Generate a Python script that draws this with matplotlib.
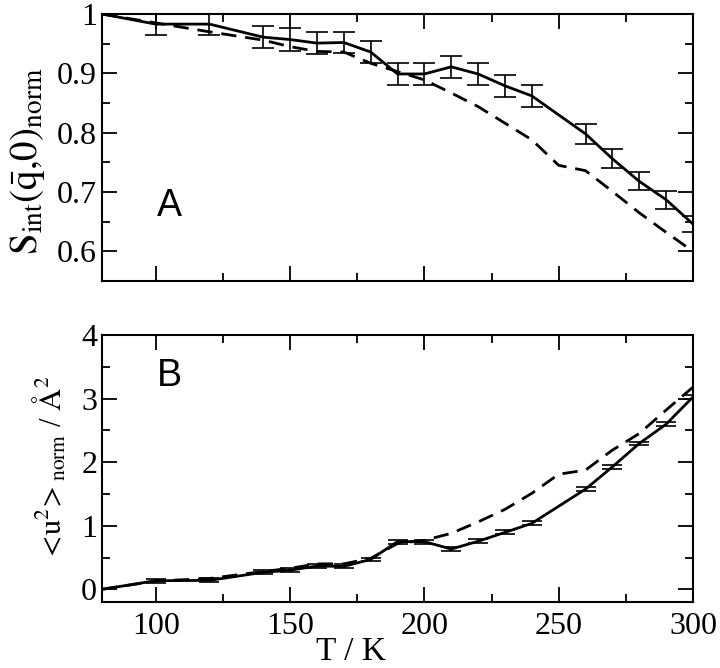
import numpy as np
import matplotlib
matplotlib.use('Agg')
import matplotlib.pyplot as plt
from matplotlib.ticker import MultipleLocator

########################## data ##########################

# panel A : S_int(q,0)_norm
T_a_solid = [80, 100, 120, 140, 150, 160, 170, 180, 190, 200, 210, 220, 230, 240, 260, 270, 280, 290, 300]
S_solid = [1.0, 0.983, 0.983, 0.961, 0.957, 0.951, 0.952, 0.936, 0.899, 0.899, 0.911, 0.899, 0.879, 0.862,
           0.798, 0.756, 0.718, 0.687, 0.646]
S_err = [0.0, 0.018, 0.018, 0.019, 0.02, 0.018, 0.018, 0.018, 0.018, 0.018, 0.018, 0.018, 0.018, 0.018,
         0.017, 0.016, 0.015, 0.015, 0.014]

T_dashed = [80, 100, 120, 140, 150, 160, 170, 180, 190, 200, 210, 220, 230, 240, 250, 260, 270, 280, 290, 300]
S_dashed = [1.0, 0.985, 0.970, 0.956, 0.945, 0.937, 0.936, 0.917, 0.903, 0.889, 0.867, 0.844, 0.816, 0.788,
            0.745, 0.736, 0.701, 0.665, 0.632, 0.600]

# panel B : <u^2>_norm
U_solid = [0.0, 0.135, 0.14, 0.267, 0.30, 0.366, 0.36, 0.47, 0.75, 0.75, 0.633, 0.755, 0.895, 1.037,
           1.576, 1.926, 2.294, 2.597, 3.026]
U_err = [0.0, 0.03, 0.03, 0.03, 0.03, 0.03, 0.03, 0.03, 0.03, 0.03, 0.03, 0.03, 0.03, 0.03,
         0.03, 0.03, 0.03, 0.03, 0.03]
U_dashed = [0.0, 0.13, 0.17, 0.28, 0.33, 0.40, 0.40, 0.487, 0.72, 0.77, 0.88, 1.06, 1.257, 1.51,
            1.81, 1.875, 2.19, 2.45, 2.82, 3.18]

x_ticks = [100, 150, 200, 250, 300]

########################## style ##########################

plt.rcParams['font.family'] = ['Liberation Serif', 'DejaVu Serif']
plt.rcParams['mathtext.fontset'] = 'stix'
plt.rcParams['font.size'] = 23

fig = plt.figure(figsize=(7.2, 6.68), dpi=100)
ax1 = fig.add_axes([0.1417, 0.5793, 0.8208, 0.3997])
ax2 = fig.add_axes([0.1417, 0.0988, 0.8208, 0.3997])

dash_style = (0, (5.5, 3.2))
line_w = 2.0

def style_axes(ax):
    for s in ax.spines.values():
        s.set_linewidth(1.5)
    ax.tick_params(which='both', direction='in', top=True, right=True, width=1.3)
    ax.tick_params(which='major', length=11)
    ax.tick_params(which='minor', length=6)
    ax.tick_params(axis='x', pad=7)
    ax.set_xlim(80, 300)
    ax.set_xticks(x_ticks)
    ax.xaxis.set_minor_locator(MultipleLocator(25))

########################## panel A ##########################

ax1.errorbar(T_a_solid, S_solid, yerr=S_err, color='black', lw=line_w, elinewidth=1.2,
             capsize=8, capthick=1.2)
ax1.plot(T_dashed, S_dashed, color='black', lw=line_w, linestyle=dash_style)
style_axes(ax1)
ax1.set_ylim(0.55, 1.0)
ax1.set_yticks([0.6, 0.7, 0.8, 0.9, 1.0])
ax1.set_yticklabels(['0.6', '0.7', '0.8', '0.9', '1'])
ax1.yaxis.set_minor_locator(MultipleLocator(0.05))
ax1.tick_params(axis='x', labelbottom=False)
ax1.set_ylabel(r'$\mathrm{S_{int}(\bar{q}{,}0)_{norm}}$', fontsize=28)
ax1.yaxis.set_label_coords(-0.093, 0.45)
ax1.text(100.5, 0.676, 'A', family='Liberation Sans', fontsize=27, va='center', ha='left')

########################## panel B ##########################

ax2.errorbar(T_a_solid, U_solid, yerr=U_err, color='black', lw=line_w, elinewidth=1.2,
             capsize=7, capthick=1.2)
ax2.plot(T_dashed, U_dashed, color='black', lw=line_w, linestyle=dash_style)
style_axes(ax2)
ax2.set_ylim(-0.2, 4)
ax2.set_yticks([0, 1, 2, 3, 4])
ax2.yaxis.set_minor_locator(MultipleLocator(0.5))
ax2.set_ylabel(r'$\mathrm{<\!u^{2}\!>_{norm}}$ / $\mathrm{\AA^{2}}$', fontsize=22)
ax2.yaxis.set_label_coords(-0.056, 0.5)
ax2.set_xlabel('T / K', fontsize=24)
ax2.xaxis.set_label_coords(0.421, -0.13)
ax2.text(100.5, 3.35, 'B', family='Liberation Sans', fontsize=27, va='center', ha='left')

fig.savefig('out.png', dpi=100)
